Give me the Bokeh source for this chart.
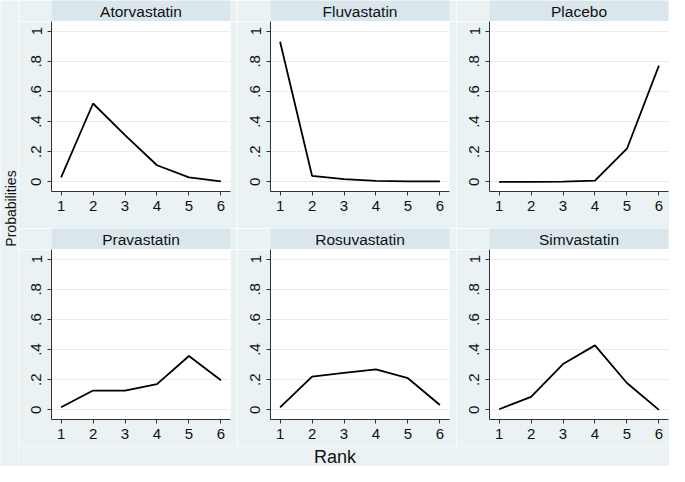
import math
from bokeh.plotting import figure
from bokeh.layouts import row, column
from bokeh.models import Range1d, FixedTicker, Label
from bokeh.embed import file_html
from bokeh.resources import INLINE

# ---------------- data ----------------
ranks = [1, 2, 3, 4, 5, 6]
rank_tick_labels = ["1", "2", "3", "4", "5", "6"]
prob_ticks = [0, 0.2, 0.4, 0.6, 0.8, 1]
prob_tick_labels = ["0", ".2", ".4", ".6", ".8", "1"]
treatments = ["Atorvastatin", "Fluvastatin", "Placebo",
              "Pravastatin", "Rosuvastatin", "Simvastatin"]
atorvastatin = [0.03, 0.52, 0.31, 0.11, 0.03, 0.003]
fluvastatin = [0.93, 0.04, 0.018, 0.006, 0.003, 0.003]
placebo = [0.0, 0.0, 0.001, 0.008, 0.22, 0.771]
pravastatin = [0.017, 0.128, 0.128, 0.171, 0.357, 0.197]
rosuvastatin = [0.017, 0.221, 0.246, 0.268, 0.21, 0.032]
simvastatin = [0.004, 0.086, 0.304, 0.428, 0.178, 0.0]
series = [atorvastatin, fluvastatin, placebo, pravastatin, rosuvastatin, simvastatin]
x_title = "Rank"
y_title = "Probabilities"

# ---------------- style ----------------
BG = "#EAF2F3"
STRIP = "#D9E6EB"
GRID = "#E4EDF0"
AXIS = "#333333"
FONT = "Liberation Sans"

TOTAL_W = 669
TOTAL_H = 466
PROB_W = 18
LEFT = 33
FW = 179
FH = 170
STRIP_H = 21
RIGHTS = [7, 7, 1]
BOTTOMS = [37, 27]


def make_panel(name, values, right, bottom):
    w = LEFT + FW + right
    strip = figure(width=w, height=STRIP_H, x_range=Range1d(0, 1), y_range=Range1d(0, 1),
                   output_backend="svg", toolbar_location=None,
                   x_axis_location=None, y_axis_location=None,
                   min_border_left=LEFT, min_border_right=right,
                   min_border_top=0, min_border_bottom=0,
                   background_fill_color=STRIP, border_fill_color=BG,
                   outline_line_color=None)
    strip.grid.visible = False
    strip.add_layout(Label(x=0.5, y=0.5, text=name, text_align="center",
                           text_baseline="middle", text_font=FONT,
                           text_font_size="15.5px", text_color="#111111"))

    p = figure(width=w, height=FH + bottom,
               x_range=Range1d(0.7, 6.3), y_range=Range1d(-0.064, 1.064),
               output_backend="svg", toolbar_location=None,
               min_border_left=LEFT, min_border_right=right,
               min_border_top=0, min_border_bottom=bottom,
               background_fill_color="white", border_fill_color=BG,
               outline_line_color=None)
    p.line(ranks, values, line_color="black", line_width=1.8)
    p.xaxis.ticker = FixedTicker(ticks=ranks)
    p.xaxis.major_label_overrides = dict(zip(ranks, rank_tick_labels))
    p.yaxis.ticker = FixedTicker(ticks=prob_ticks)
    p.yaxis.major_label_overrides = dict(zip(prob_ticks, prob_tick_labels))
    p.yaxis.major_label_orientation = "vertical"
    p.xgrid.visible = False
    p.ygrid.grid_line_color = GRID
    p.ygrid.grid_line_width = 1.2
    for ax in p.axis:
        ax.minor_tick_line_color = None
        ax.major_tick_out = 4
        ax.major_tick_in = 0
        ax.axis_line_color = AXIS
        ax.major_tick_line_color = AXIS
        ax.major_label_text_font = FONT
        ax.major_label_text_font_size = "15px"
        ax.major_label_text_color = "#111111"
    p.xaxis.major_label_standoff = 5
    p.yaxis.major_label_standoff = 6
    return column(strip, p)


rows = []
for r in range(2):
    cells = []
    for c in range(3):
        i = r * 3 + c
        cells.append(make_panel(treatments[i], series[i], RIGHTS[c], BOTTOMS[r]))
    rows.append(row(*cells))

grid_w = TOTAL_W - PROB_W
used_h = 2 * (STRIP_H + FH) + sum(BOTTOMS)
rank_h = TOTAL_H - used_h

rank_fig = figure(width=grid_w, height=rank_h, x_range=Range1d(0, 1), y_range=Range1d(0, 1),
                  output_backend="svg", toolbar_location=None,
                  x_axis_location=None, y_axis_location=None,
                  min_border=0, background_fill_color=BG, border_fill_color=BG,
                  outline_line_color=None)
rank_fig.grid.visible = False
rank_fig.add_layout(Label(x=TOTAL_W / 2 - PROB_W, y=rank_h / 2, x_units="screen", y_units="screen",
                          text=x_title, text_align="center", text_baseline="middle",
                          text_font=FONT, text_font_size="18px", text_color="#111111"))

prob_fig = figure(width=PROB_W, height=TOTAL_H, x_range=Range1d(0, 1), y_range=Range1d(0, 1),
                  output_backend="svg", toolbar_location=None,
                  x_axis_location=None, y_axis_location=None,
                  min_border=0, background_fill_color=BG, border_fill_color=BG,
                  outline_line_color=None)
prob_fig.grid.visible = False
prob_fig.add_layout(Label(x=PROB_W / 2 + 1, y=TOTAL_H - 208, x_units="screen", y_units="screen",
                          text=y_title, text_align="center", text_baseline="middle",
                          angle=math.pi / 2, text_font=FONT, text_font_size="14px",
                          text_color="#111111"))

layout = row(prob_fig, column(rows[0], rows[1], rank_fig))

open("out.html", "w").write(file_html(layout, INLINE))
